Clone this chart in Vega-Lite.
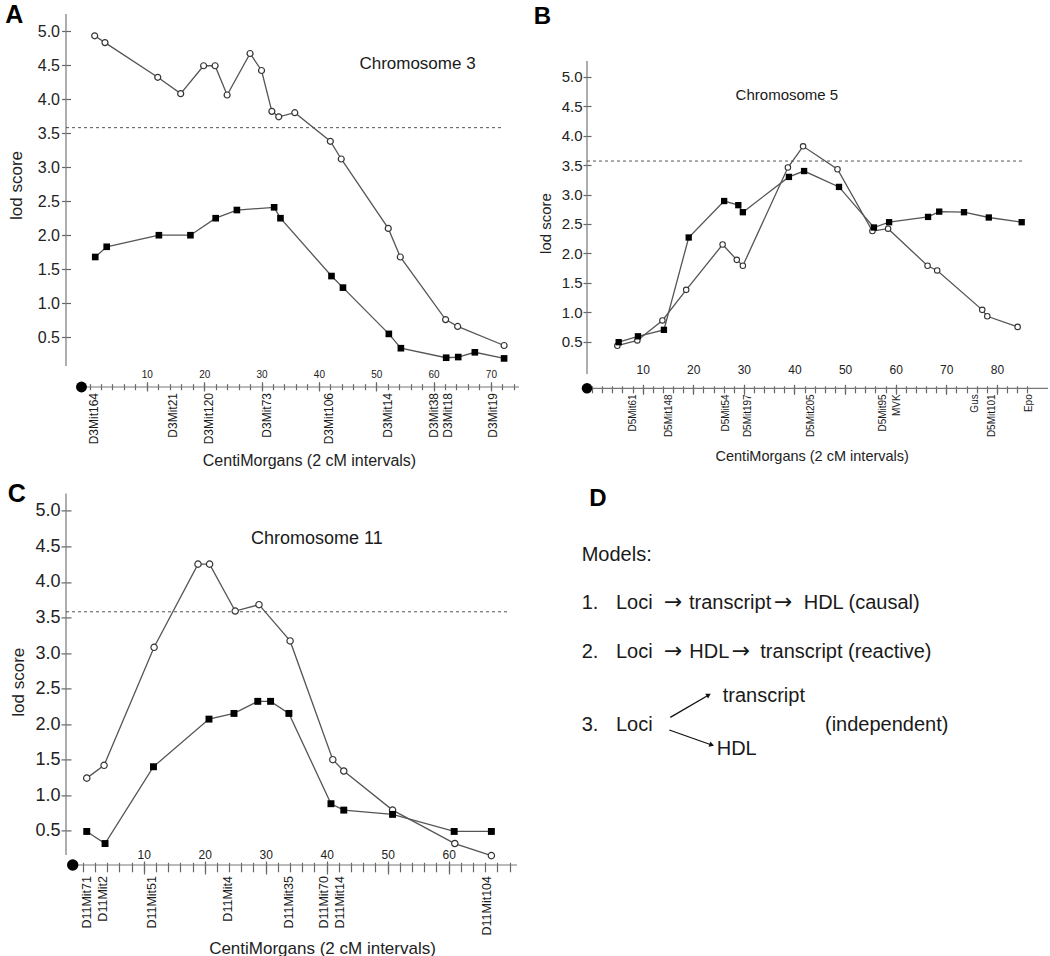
{
  "$schema": "https://vega.github.io/schema/vega-lite/v6.json",
  "padding": {"left": 5, "top": 2, "right": 0, "bottom": 0},
  "config": {
    "font": "Liberation Sans",
    "view": {"stroke": null},
    "axis": {"grid": false, "domain": false, "tickColor": "#666", "tickWidth": 1.2, "labelColor": "#222", "titleColor": "#222", "titleFontWeight": "normal", "labelFont": "Liberation Sans", "titleFont": "Liberation Sans"},
    "text": {"color": "#1a1a1a", "font": "Liberation Sans"}
  },
  "datasets": {
    "a_lod": [
      {"series": "open", "cM": 0.9, "lod": 4.93}, {"series": "open", "cM": 2.7, "lod": 4.83}, {"series": "open", "cM": 11.9, "lod": 4.32}, {"series": "open", "cM": 15.9, "lod": 4.08}, {"series": "open", "cM": 19.9, "lod": 4.49}, {"series": "open", "cM": 21.9, "lod": 4.49}, {"series": "open", "cM": 24.0, "lod": 4.06}, {"series": "open", "cM": 28.0, "lod": 4.67}, {"series": "open", "cM": 30.0, "lod": 4.42}, {"series": "open", "cM": 31.8, "lod": 3.82}, {"series": "open", "cM": 33.0, "lod": 3.74}, {"series": "open", "cM": 35.8, "lod": 3.80}, {"series": "open", "cM": 42.0, "lod": 3.38}, {"series": "open", "cM": 43.9, "lod": 3.12}, {"series": "open", "cM": 52.1, "lod": 2.10}, {"series": "open", "cM": 54.2, "lod": 1.68}, {"series": "open", "cM": 62.1, "lod": 0.76}, {"series": "open", "cM": 64.2, "lod": 0.66}, {"series": "open", "cM": 72.3, "lod": 0.38},
      {"series": "filled", "cM": 1.0, "lod": 1.68}, {"series": "filled", "cM": 3.0, "lod": 1.83}, {"series": "filled", "cM": 12.1, "lod": 2.00}, {"series": "filled", "cM": 17.6, "lod": 2.00}, {"series": "filled", "cM": 22.0, "lod": 2.25}, {"series": "filled", "cM": 25.7, "lod": 2.37}, {"series": "filled", "cM": 32.2, "lod": 2.41}, {"series": "filled", "cM": 33.3, "lod": 2.25}, {"series": "filled", "cM": 42.2, "lod": 1.40}, {"series": "filled", "cM": 44.2, "lod": 1.23}, {"series": "filled", "cM": 52.2, "lod": 0.55}, {"series": "filled", "cM": 54.3, "lod": 0.34}, {"series": "filled", "cM": 62.2, "lod": 0.20}, {"series": "filled", "cM": 64.3, "lod": 0.21}, {"series": "filled", "cM": 67.2, "lod": 0.28}, {"series": "filled", "cM": 72.3, "lod": 0.19}
    ],
    "a_mk": [
      {"marker": "D3Mit164", "cM": 0.8}, {"marker": "D3Mit21", "cM": 14.5}, {"marker": "D3Mit120", "cM": 20.9}, {"marker": "D3Mit73", "cM": 30.9}, {"marker": "D3Mit106", "cM": 41.8}, {"marker": "D3Mit14", "cM": 52.0}, {"marker": "D3Mit38", "cM": 60.1}, {"marker": "D3Mit18", "cM": 62.5}, {"marker": "D3Mit19", "cM": 70.4}
    ],
    "b_lod": [
      {"series": "open", "cM": 5.0, "lod": 0.43}, {"series": "open", "cM": 8.95, "lod": 0.52}, {"series": "open", "cM": 13.9, "lod": 0.86}, {"series": "open", "cM": 18.6, "lod": 1.38}, {"series": "open", "cM": 25.8, "lod": 2.15}, {"series": "open", "cM": 28.6, "lod": 1.89}, {"series": "open", "cM": 29.8, "lod": 1.79}, {"series": "open", "cM": 38.7, "lod": 3.46}, {"series": "open", "cM": 41.7, "lod": 3.82}, {"series": "open", "cM": 48.5, "lod": 3.43}, {"series": "open", "cM": 55.4, "lod": 2.38}, {"series": "open", "cM": 58.5, "lod": 2.42}, {"series": "open", "cM": 66.3, "lod": 1.79}, {"series": "open", "cM": 68.2, "lod": 1.71}, {"series": "open", "cM": 77.1, "lod": 1.04}, {"series": "open", "cM": 78.1, "lod": 0.93}, {"series": "open", "cM": 84.1, "lod": 0.75},
      {"series": "filled", "cM": 5.26, "lod": 0.49}, {"series": "filled", "cM": 9.07, "lod": 0.59}, {"series": "filled", "cM": 14.2, "lod": 0.70}, {"series": "filled", "cM": 19.1, "lod": 2.27}, {"series": "filled", "cM": 26.1, "lod": 2.89}, {"series": "filled", "cM": 28.9, "lod": 2.82}, {"series": "filled", "cM": 29.8, "lod": 2.70}, {"series": "filled", "cM": 38.9, "lod": 3.30}, {"series": "filled", "cM": 41.9, "lod": 3.40}, {"series": "filled", "cM": 48.8, "lod": 3.13}, {"series": "filled", "cM": 55.7, "lod": 2.44}, {"series": "filled", "cM": 58.7, "lod": 2.53}, {"series": "filled", "cM": 66.4, "lod": 2.62}, {"series": "filled", "cM": 68.6, "lod": 2.71}, {"series": "filled", "cM": 73.5, "lod": 2.70}, {"series": "filled", "cM": 78.4, "lod": 2.61}, {"series": "filled", "cM": 84.9, "lod": 2.53}
    ],
    "b_mk": [
      {"marker": "D5Mit61", "cM": 8.0}, {"marker": "D5Mit148", "cM": 15.3}, {"marker": "D5Mit54", "cM": 26.5}, {"marker": "D5Mit197", "cM": 30.8}, {"marker": "D5Mit205", "cM": 43.2}, {"marker": "D5Mit95", "cM": 57.4}, {"marker": "MVK", "cM": 60.3}, {"marker": "Gus", "cM": 75.6}, {"marker": "D5Mit101", "cM": 79.0}, {"marker": "Epo", "cM": 86.3}
    ],
    "c_lod": [
      {"series": "open", "cM": 0.66, "lod": 1.24}, {"series": "open", "cM": 3.5, "lod": 1.42}, {"series": "open", "cM": 11.7, "lod": 3.08}, {"series": "open", "cM": 18.9, "lod": 4.25}, {"series": "open", "cM": 20.8, "lod": 4.25}, {"series": "open", "cM": 25.0, "lod": 3.59}, {"series": "open", "cM": 28.9, "lod": 3.68}, {"series": "open", "cM": 34.0, "lod": 3.17}, {"series": "open", "cM": 41.0, "lod": 1.50}, {"series": "open", "cM": 42.8, "lod": 1.34}, {"series": "open", "cM": 50.8, "lod": 0.79}, {"series": "open", "cM": 61.0, "lod": 0.32}, {"series": "open", "cM": 67.0, "lod": 0.15},
      {"series": "filled", "cM": 0.66, "lod": 0.49}, {"series": "filled", "cM": 3.66, "lod": 0.32}, {"series": "filled", "cM": 11.6, "lod": 1.40}, {"series": "filled", "cM": 20.7, "lod": 2.07}, {"series": "filled", "cM": 24.8, "lod": 2.15}, {"series": "filled", "cM": 28.7, "lod": 2.32}, {"series": "filled", "cM": 30.8, "lod": 2.32}, {"series": "filled", "cM": 33.8, "lod": 2.15}, {"series": "filled", "cM": 40.7, "lod": 0.88}, {"series": "filled", "cM": 42.8, "lod": 0.79}, {"series": "filled", "cM": 50.8, "lod": 0.73}, {"series": "filled", "cM": 60.9, "lod": 0.49}, {"series": "filled", "cM": 67.0, "lod": 0.49}
    ],
    "c_mk": [
      {"marker": "D11Mit71", "cM": 0.7}, {"marker": "D11Mit2", "cM": 3.4}, {"marker": "D11Mit51", "cM": 11.4}, {"marker": "D11Mit4", "cM": 23.9}, {"marker": "D11Mit35", "cM": 33.8}, {"marker": "D11Mit70", "cM": 39.5}, {"marker": "D11Mit14", "cM": 42.2}, {"marker": "D11Mit104", "cM": 66.3}
    ],
    "d_txt": [
      {"t": "Models:", "x": -5.3, "y": 67.3},
      {"t": "1.", "x": -5.3, "y": 116}, {"t": "Loci", "x": 29, "y": 116}, {"t": "→", "x": 77, "y": 116}, {"t": "transcript", "x": 102, "y": 116}, {"t": "→", "x": 187, "y": 116}, {"t": "HDL (causal)", "x": 216.7, "y": 116},
      {"t": "2.", "x": -5.3, "y": 164.3}, {"t": "Loci", "x": 29, "y": 164.3}, {"t": "→", "x": 77, "y": 164.3}, {"t": "HDL", "x": 102.3, "y": 164.3}, {"t": "→", "x": 144.7, "y": 164.3}, {"t": "transcript (reactive)", "x": 173.3, "y": 164.3},
      {"t": "3.", "x": -5.3, "y": 237.6}, {"t": "Loci", "x": 29, "y": 237.6}, {"t": "transcript", "x": 135.7, "y": 209}, {"t": "HDL", "x": 129.7, "y": 261.6}, {"t": "(independent)", "x": 238, "y": 237.6}
    ],
    "d_arrow": [
      {"to": "transcript", "x": 83.3, "y": 224, "x2": 121.7, "y2": 201.6},
      {"to": "HDL", "x": 82.3, "y": 236.6, "x2": 124.7, "y2": 251.6}
    ]
  },
  "columns": 2,
  "spacing": {"row": 104.4, "column": 68},
  "bounds": "flush",
  "concat": [
    {
      "width": 453, "height": 373,
      "resolve": {"axis": {"x": "independent", "y": "independent"}},
      "layer": [
        {
          "data": {"values": [{}]},
          "mark": {"type": "rule", "color": "#777", "strokeWidth": 1.2},
          "encoding": {
            "x": {"datum": -4.1, "type": "quantitative", "scale": {"domain": [-4.1, 74.9], "nice": false, "zero": false},
              "axis": {"orient": "bottom", "values": [0,2,4,6,8,10,12,14,16,18,20,22,24,26,28,30,32,34,36,38,40,42,44,46,48,50,52,54,56,58,60,62,64,66,68,70,72,74], "labels": false, "tickSize": 6, "offset": -3.3, "title": "CentiMorgans (2 cM intervals)", "titleFontSize": 16, "titleX": 243, "titleY": 77, "titleBaseline": "middle"}},
            "y": {"datum": 0.08, "type": "quantitative", "scale": {"domain": [-0.23, 5.25], "nice": false, "zero": false},
              "axis": {"orient": "left", "values": [0.5,1,1.5,2,2.5,3,3.5,4,4.5,5], "format": ".1f", "tickSize": 9, "offset": -4.5, "labelFontSize": 16, "labelPadding": 2, "title": "lod score", "titleFontSize": 17, "titleX": -54.5, "titleY": 171, "titleBaseline": "middle"}},
            "y2": {"datum": 5.25}
          }
        },
        {
          "data": {"values": [{}]},
          "mark": {"type": "rule", "color": "#777", "strokeWidth": 1.2},
          "encoding": {
            "x": {"datum": -1.4, "type": "quantitative", "axis": {"orient": "bottom", "values": [10,20,30,40,50,60,70], "tickSize": 9.3, "offset": -5.3, "labelFontSize": 10, "labelPadding": -22, "title": null}},
            "x2": {"datum": 74.9},
            "y": {"datum": -0.23, "type": "quantitative", "axis": null}
          }
        },
        {
          "data": {"values": [{}]},
          "mark": {"type": "rule", "color": "#555", "strokeDash": [3, 3], "strokeWidth": 1},
          "encoding": {
            "x": {"datum": -4.1, "type": "quantitative", "axis": null},
            "x2": {"datum": 72},
            "y": {"datum": 3.58, "type": "quantitative", "axis": null}
          }
        },
        {
          "data": {"name": "a_lod"},
          "mark": {"type": "line", "color": "#555", "strokeWidth": 1.3},
          "encoding": {
            "x": {"field": "cM", "type": "quantitative", "axis": null},
            "y": {"field": "lod", "type": "quantitative", "axis": null},
            "detail": {"field": "series"}
          }
        },
        {
          "data": {"name": "a_lod"},
          "transform": [{"filter": "datum.series === 'open'"}],
          "mark": {"type": "point", "shape": "circle", "filled": true, "fill": "white", "stroke": "#333", "strokeWidth": 1.2, "size": 36, "opacity": 1},
          "encoding": {
            "x": {"field": "cM", "type": "quantitative", "axis": null},
            "y": {"field": "lod", "type": "quantitative", "axis": null}
          }
        },
        {
          "data": {"name": "a_lod"},
          "transform": [{"filter": "datum.series === 'filled'"}],
          "mark": {"type": "point", "shape": "square", "filled": true, "fill": "black", "size": 44, "opacity": 1},
          "encoding": {
            "x": {"field": "cM", "type": "quantitative", "axis": null},
            "y": {"field": "lod", "type": "quantitative", "axis": null}
          }
        },
        {
          "data": {"values": [{}]},
          "mark": {"type": "point", "shape": "circle", "filled": true, "fill": "black", "size": 120, "opacity": 1},
          "encoding": {
            "x": {"datum": -1.4, "type": "quantitative", "axis": null},
            "y": {"datum": -0.23, "type": "quantitative", "axis": null}
          }
        },
        {
          "data": {"name": "a_mk"},
          "mark": {"type": "text", "angle": 270, "align": "right", "baseline": "middle", "dx": -6, "fontSize": 12},
          "encoding": {
            "x": {"field": "cM", "type": "quantitative", "axis": null},
            "y": {"datum": -0.23, "type": "quantitative", "axis": null},
            "text": {"field": "marker"}
          }
        },
        {
          "data": {"values": [{}]},
          "mark": {"type": "text", "text": "Chromosome 3", "fontSize": 17, "align": "center", "baseline": "middle"},
          "encoding": {
            "x": {"datum": 57.2, "type": "quantitative", "axis": null},
            "y": {"datum": 4.52, "type": "quantitative", "axis": null}
          }
        },
        {
          "data": {"values": [{}]},
          "mark": {"type": "text", "text": "A", "fontSize": 25, "fontWeight": "bold", "align": "center", "baseline": "middle", "color": "#000"},
          "encoding": {
            "x": {"datum": -13.1, "type": "quantitative", "axis": null},
            "y": {"datum": 5.24, "type": "quantitative", "axis": null}
          }
        }
      ]
    },
    {
      "width": 461, "height": 374.3,
      "resolve": {"axis": {"x": "independent", "y": "independent"}},
      "layer": [
        {
          "data": {"values": [{}]},
          "mark": {"type": "rule", "color": "#777", "strokeWidth": 1.2},
          "encoding": {
            "x": {"datum": -1, "type": "quantitative", "scale": {"domain": [-1, 90.1], "nice": false, "zero": false},
              "axis": {"orient": "bottom", "values": [0,2,4,6,8,10,12,14,16,18,20,22,24,26,28,30,32,34,36,38,40,42,44,46,48,50,52,54,56,58,60,62,64,66,68,70,72,74,76,78,80,82,84,86], "labels": false, "tickSize": 7, "offset": -2.5, "title": "CentiMorgans (2 cM intervals)", "titleFontSize": 14.5, "titleX": 224.7, "titleY": 70.5, "titleBaseline": "middle"}},
            "y": {"datum": -0.05, "type": "quantitative", "scale": {"domain": [-0.294, 6.07], "nice": false, "zero": false},
              "axis": {"orient": "left", "values": [0.5,1,1.5,2,2.5,3,3.5,4,4.5,5], "format": ".1f", "tickSize": 8, "offset": -4, "labelFontSize": 15, "labelPadding": 1, "title": "lod score", "titleFontSize": 15, "titleX": -46, "titleY": 209, "titleBaseline": "middle"}},
            "y2": {"datum": 5.27}
          }
        },
        {
          "data": {"values": [{}]},
          "mark": {"type": "rule", "color": "#777", "strokeWidth": 1.2},
          "encoding": {
            "x": {"datum": -1, "type": "quantitative", "axis": {"orient": "bottom", "values": [10,20,30,40,50,60,70,80], "tickSize": 10, "offset": -4, "labelFontSize": 12, "labelPadding": -29.5, "title": null}},
            "x2": {"datum": 90.1},
            "y": {"datum": -0.294, "type": "quantitative", "axis": null}
          }
        },
        {
          "data": {"values": [{}]},
          "mark": {"type": "rule", "color": "#555", "strokeDash": [3, 3], "strokeWidth": 1},
          "encoding": {
            "x": {"datum": -1, "type": "quantitative", "axis": null},
            "x2": {"datum": 85},
            "y": {"datum": 3.57, "type": "quantitative", "axis": null}
          }
        },
        {
          "data": {"name": "b_lod"},
          "mark": {"type": "line", "color": "#555", "strokeWidth": 1.3},
          "encoding": {
            "x": {"field": "cM", "type": "quantitative", "axis": null},
            "y": {"field": "lod", "type": "quantitative", "axis": null},
            "detail": {"field": "series"}
          }
        },
        {
          "data": {"name": "b_lod"},
          "transform": [{"filter": "datum.series === 'open'"}],
          "mark": {"type": "point", "shape": "circle", "filled": true, "fill": "white", "stroke": "#333", "strokeWidth": 1.1, "size": 30, "opacity": 1},
          "encoding": {
            "x": {"field": "cM", "type": "quantitative", "axis": null},
            "y": {"field": "lod", "type": "quantitative", "axis": null}
          }
        },
        {
          "data": {"name": "b_lod"},
          "transform": [{"filter": "datum.series === 'filled'"}],
          "mark": {"type": "point", "shape": "square", "filled": true, "fill": "black", "size": 40, "opacity": 1},
          "encoding": {
            "x": {"field": "cM", "type": "quantitative", "axis": null},
            "y": {"field": "lod", "type": "quantitative", "axis": null}
          }
        },
        {
          "data": {"values": [{}]},
          "mark": {"type": "point", "shape": "circle", "filled": true, "fill": "black", "size": 110, "opacity": 1},
          "encoding": {
            "x": {"datum": -1, "type": "quantitative", "axis": null},
            "y": {"datum": -0.294, "type": "quantitative", "axis": null}
          }
        },
        {
          "data": {"name": "b_mk"},
          "mark": {"type": "text", "angle": 270, "align": "right", "baseline": "middle", "dx": -6, "fontSize": 10},
          "encoding": {
            "x": {"field": "cM", "type": "quantitative", "axis": null},
            "y": {"datum": -0.294, "type": "quantitative", "axis": null},
            "text": {"field": "marker"}
          }
        },
        {
          "data": {"values": [{}]},
          "mark": {"type": "text", "text": "Chromosome 5", "fontSize": 15, "align": "center", "baseline": "middle"},
          "encoding": {
            "x": {"datum": 38.5, "type": "quantitative", "axis": null},
            "y": {"datum": 4.69, "type": "quantitative", "axis": null}
          }
        },
        {
          "data": {"values": [{}]},
          "mark": {"type": "text", "text": "B", "fontSize": 24, "fontWeight": "bold", "align": "center", "baseline": "middle", "color": "#000"},
          "encoding": {
            "x": {"datum": -9.8, "type": "quantitative", "axis": null},
            "y": {"datum": 6.02, "type": "quantitative", "axis": null}
          }
        }
      ]
    },
    {
      "width": 451, "height": 371.6,
      "resolve": {"axis": {"x": "independent", "y": "independent"}},
      "layer": [
        {
          "data": {"values": [{}]},
          "mark": {"type": "rule", "color": "#777", "strokeWidth": 1.2},
          "encoding": {
            "x": {"datum": -2.74, "type": "quantitative", "scale": {"domain": [-2.74, 71.2], "nice": false, "zero": false},
              "axis": {"orient": "bottom", "values": [0,2,4,6,8,10,12,14,16,18,20,22,24,26,28,30,32,34,36,38,40,42,44,46,48,50,52,54,56,58,60,62,64,66,68,70], "labels": false, "tickSize": 9.5, "offset": -2.7, "title": "CentiMorgans (2 cM intervals)", "titleFontSize": 17, "titleX": 256, "titleY": 86, "titleBaseline": "middle"}},
            "y": {"datum": 0.16, "type": "quantitative", "scale": {"domain": [0.018, 5.245], "nice": false, "zero": false},
              "axis": {"orient": "left", "values": [0.5,1,1.5,2,2.5,3,3.5,4,4.5,5], "format": ".1f", "tickSize": 10, "offset": -5, "labelFontSize": 18, "labelPadding": 1, "title": "lod score", "titleFontSize": 17, "titleX": -52.3, "titleY": 188.3, "titleBaseline": "middle"}},
            "y2": {"datum": 5.245}
          }
        },
        {
          "data": {"values": [{}]},
          "mark": {"type": "rule", "color": "#777", "strokeWidth": 1.2},
          "encoding": {
            "x": {"datum": -1.64, "type": "quantitative", "axis": {"orient": "bottom", "values": [10,20,30,40,50,60], "tickSize": 13, "offset": -4, "labelFontSize": 12, "labelPadding": -24.5, "title": null}},
            "x2": {"datum": 71.2},
            "y": {"datum": 0.018, "type": "quantitative", "axis": null}
          }
        },
        {
          "data": {"values": [{}]},
          "mark": {"type": "rule", "color": "#555", "strokeDash": [3, 3], "strokeWidth": 1},
          "encoding": {
            "x": {"datum": -2.74, "type": "quantitative", "axis": null},
            "x2": {"datum": 70},
            "y": {"datum": 3.58, "type": "quantitative", "axis": null}
          }
        },
        {
          "data": {"name": "c_lod"},
          "mark": {"type": "line", "color": "#555", "strokeWidth": 1.3},
          "encoding": {
            "x": {"field": "cM", "type": "quantitative", "axis": null},
            "y": {"field": "lod", "type": "quantitative", "axis": null},
            "detail": {"field": "series"}
          }
        },
        {
          "data": {"name": "c_lod"},
          "transform": [{"filter": "datum.series === 'open'"}],
          "mark": {"type": "point", "shape": "circle", "filled": true, "fill": "white", "stroke": "#333", "strokeWidth": 1.2, "size": 40, "opacity": 1},
          "encoding": {
            "x": {"field": "cM", "type": "quantitative", "axis": null},
            "y": {"field": "lod", "type": "quantitative", "axis": null}
          }
        },
        {
          "data": {"name": "c_lod"},
          "transform": [{"filter": "datum.series === 'filled'"}],
          "mark": {"type": "point", "shape": "square", "filled": true, "fill": "black", "size": 48, "opacity": 1},
          "encoding": {
            "x": {"field": "cM", "type": "quantitative", "axis": null},
            "y": {"field": "lod", "type": "quantitative", "axis": null}
          }
        },
        {
          "data": {"values": [{}]},
          "mark": {"type": "point", "shape": "circle", "filled": true, "fill": "black", "size": 130, "opacity": 1},
          "encoding": {
            "x": {"datum": -1.64, "type": "quantitative", "axis": null},
            "y": {"datum": 0.018, "type": "quantitative", "axis": null}
          }
        },
        {
          "data": {"name": "c_mk"},
          "mark": {"type": "text", "angle": 270, "align": "right", "baseline": "middle", "dx": -11, "fontSize": 12.5},
          "encoding": {
            "x": {"field": "cM", "type": "quantitative", "axis": null},
            "y": {"datum": 0.018, "type": "quantitative", "axis": null},
            "text": {"field": "marker"}
          }
        },
        {
          "data": {"values": [{}]},
          "mark": {"type": "text", "text": "Chromosome 11", "fontSize": 18, "align": "center", "baseline": "middle"},
          "encoding": {
            "x": {"datum": 38.4, "type": "quantitative", "axis": null},
            "y": {"datum": 4.61, "type": "quantitative", "axis": null}
          }
        },
        {
          "data": {"values": [{}]},
          "mark": {"type": "text", "text": "C", "fontSize": 25, "fontWeight": "bold", "align": "center", "baseline": "middle", "color": "#000"},
          "encoding": {
            "x": {"datum": -10.8, "type": "quantitative", "axis": null},
            "y": {"datum": 5.24, "type": "quantitative", "axis": null}
          }
        }
      ]
    },
    {
      "width": 440, "height": 371.6,
      "layer": [
        {
          "data": {"name": "d_txt"},
          "transform": [{"filter": "datum.t !== '→'"}],
          "mark": {"type": "text", "align": "left", "baseline": "alphabetic", "fontSize": 20},
          "encoding": {
            "x": {"field": "x", "type": "quantitative", "scale": {"domain": [0, 440], "nice": false, "zero": false}, "axis": null},
            "y": {"field": "y", "type": "quantitative", "scale": {"domain": [0, 371.6], "nice": false, "zero": false, "reverse": true}, "axis": null},
            "text": {"field": "t"}
          }
        },
        {
          "data": {"name": "d_txt"},
          "transform": [{"filter": "datum.t === '→'"}],
          "mark": {"type": "text", "align": "left", "baseline": "alphabetic", "fontSize": 22, "font": "DejaVu Sans"},
          "encoding": {
            "x": {"field": "x", "type": "quantitative", "axis": null},
            "y": {"field": "y", "type": "quantitative", "axis": null},
            "text": {"field": "t"}
          }
        },
        {
          "data": {"name": "d_arrow"},
          "mark": {"type": "rule", "color": "#111", "strokeWidth": 1.3},
          "encoding": {
            "x": {"field": "x", "type": "quantitative", "axis": null},
            "y": {"field": "y", "type": "quantitative", "axis": null},
            "x2": {"field": "x2"},
            "y2": {"field": "y2"}
          }
        },
        {
          "data": {"name": "d_arrow"},
          "transform": [{"filter": "datum.to === 'transcript'"}],
          "mark": {"type": "point", "shape": "triangle-right", "filled": true, "fill": "#111", "size": 30, "angle": -30, "opacity": 1},
          "encoding": {
            "x": {"field": "x2", "type": "quantitative", "axis": null},
            "y": {"field": "y2", "type": "quantitative", "axis": null}
          }
        },
        {
          "data": {"name": "d_arrow"},
          "transform": [{"filter": "datum.to === 'HDL'"}],
          "mark": {"type": "point", "shape": "triangle-right", "filled": true, "fill": "#111", "size": 30, "angle": 20, "opacity": 1},
          "encoding": {
            "x": {"field": "x2", "type": "quantitative", "axis": null},
            "y": {"field": "y2", "type": "quantitative", "axis": null}
          }
        },
        {
          "data": {"values": [{}]},
          "mark": {"type": "text", "text": "D", "fontSize": 24, "fontWeight": "bold", "align": "center", "baseline": "middle", "color": "#000"},
          "encoding": {
            "x": {"datum": 11, "type": "quantitative", "axis": null},
            "y": {"datum": 5.3, "type": "quantitative", "axis": null}
          }
        }
      ]
    }
  ]
}
